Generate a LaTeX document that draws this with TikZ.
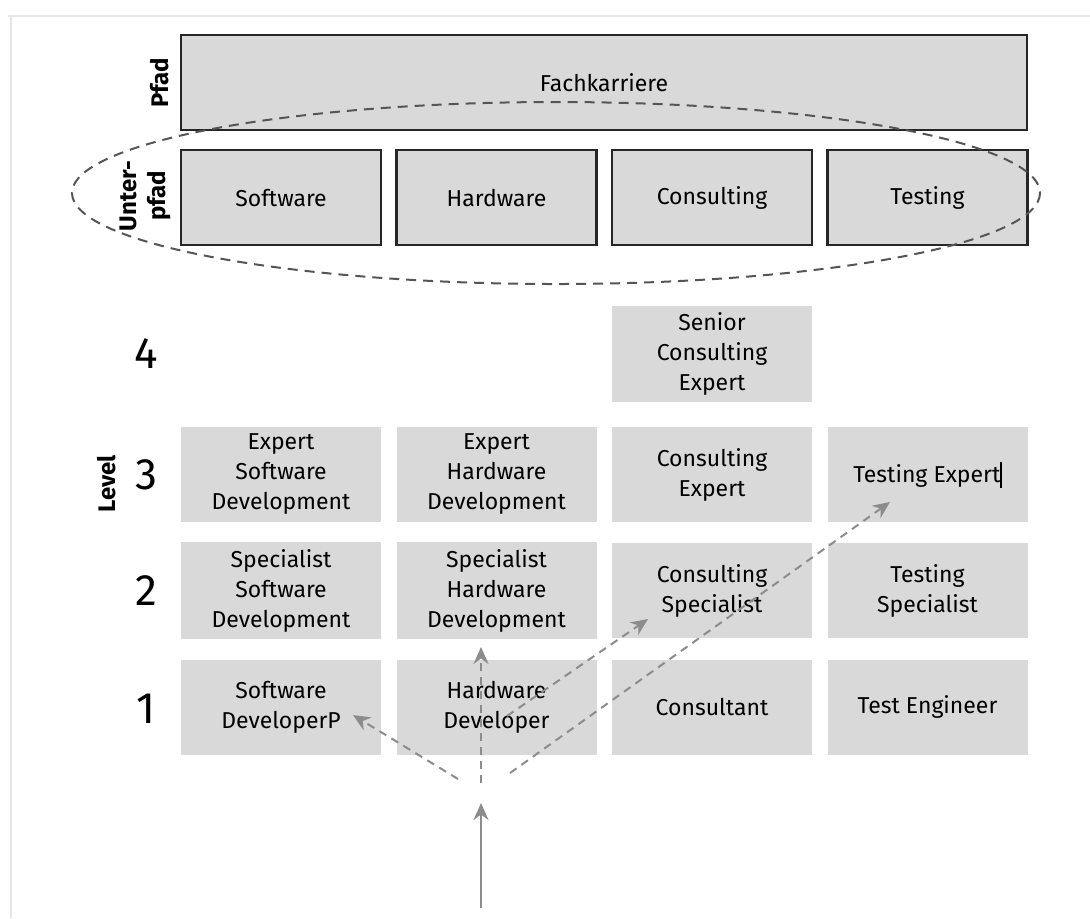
\documentclass[tikz,border=0pt]{standalone}
\usepackage{fontspec}
\setmainfont{Fira Sans}
\usetikzlibrary{arrows.meta,shapes.geometric}
\definecolor{boxgray}{HTML}{D9D9D9}
\definecolor{linegray}{HTML}{8C8C8C}
\definecolor{framegray}{HTML}{E6E6E6}
\definecolor{ringgray}{HTML}{555555}
\newcommand{\boxfont}{\fontsize{11.5}{15}\selectfont}
\newcommand{\sidefont}{\fontsize{12}{14.5}\selectfont}
\tikzset{%
	pathbox/.style  = {draw=black!85, line width=1.2pt, fill=boxgray, minimum width=100pt, minimum height=47.5pt, text centered, font=\boxfont},
	levelbox/.style = {fill=boxgray, minimum width=100pt, minimum height=47.5pt, align=center, font=\boxfont},
	side/.style     = {rotate=90, font=\bfseries\sidefont, align=center},
	levelnum/.style = {font=\fontsize{22}{22}\selectfont},
	arrow/.style    = {draw=linegray, line width=1pt, -{Stealth[length=8.5pt,width=7.5pt]}},
	dasharrow/.style= {arrow, dash pattern=on 4pt off 3pt},
}

\begin{document}
\begin{tikzpicture}[x=0.5pt,y=-0.5pt]
	\useasboundingbox (0,0) rectangle (1090,918);
	\draw[framegray, line width=1pt] (8,16) -- (1090,16);
	\draw[framegray, line width=1pt] (11,16) -- (11,918);
	
	% path and sub-paths
	\node[pathbox, minimum width=423pt] (fach) at (604,82.5) {Fachkarriere};
	\node[pathbox] (sw) at (281,197.5) {Software};
	\node[pathbox] (hw) at (496.5,197.5) {Hardware};
	\node[pathbox] (cons) at (712,197.5) {Consulting};
	\node[pathbox] (test) at (927.5,197.5) {Testing};
	\node[side] (pfad) at (160,83) {Pfad};
	\node[side] (unter) at (145,196) {Unter-\\pfad};
	\draw[ringgray, line width=1pt, dash pattern=on 5pt off 3.5pt] (556,193) ellipse [x radius=484, y radius=91];
	
	% levels
	\node[levelbox] (cons4) at (712,354) {Senior\\Consulting\\Expert};
	\node[levelbox] (sw3) at (281,474.5) {Expert\\Software\\Development};
	\node[levelbox] (hw3) at (496.5,474.5) {Expert\\Hardware\\Development};
	\node[levelbox] (cons3) at (712,474.5) {Consulting\\Expert};
	\node[levelbox] (test3) at (927.5,474.5) {Testing Expert\rule[-2.5pt]{0.7pt}{13pt}};
	\node[levelbox] (sw2) at (281,590.5) {Specialist\\Software\\Development};
	\node[levelbox] (hw2) at (496.5,590.5) {Specialist\\Hardware\\Development};
	\node[levelbox] (cons2) at (712,590.5) {Consulting\\Specialist};
	\node[levelbox] (test2) at (927.5,590.5) {Testing\\Specialist};
	\node[levelbox] (sw1) at (281,707) {Software\\DeveloperP};
	\node[levelbox] (hw1) at (496.5,707) {Hardware\\Developer};
	\node[levelbox] (cons1) at (712,707) {Consultant};
	\node[levelbox] (test1) at (927.5,707) {Test Engineer};
	
	\foreach \n/\y in {4/354,3/474.5,2/590.5,1/709} \node[levelnum] (num\n) at (146,\y) {\n};
	\node[side] (level) at (107,484) {Level};
	
	% entry arrows
	\coordinate (base) at (481,908);
	\coordinate (entry) at (481,803);
	\coordinate (fork) at (481,783);
	\coordinate (forkl) at (458,779);
	\coordinate (forkr) at (510,773);
	\coordinate (hwmid) at (507,716);
	\coordinate (tipsw) at (353,715);
	\coordinate (tiphw) at (481,647);
	\coordinate (tipcons) at (648,619);
	\coordinate (tiptest) at (890,502);
	\draw[arrow] (base) -- (entry);
	\draw[dasharrow] (fork) -- (tiphw);
	\draw[dasharrow] (forkl) -- (tipsw);
	\draw[dasharrow] (hwmid) -- (tipcons);
	\draw[dasharrow] (forkr) -- (tiptest);
\end{tikzpicture}
\end{document}
